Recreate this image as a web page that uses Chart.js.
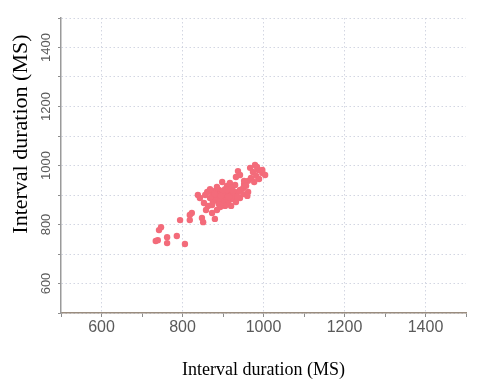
<!DOCTYPE html>
<html>
<head>
<meta charset="utf-8">
<script src="https://cdn.jsdelivr.net/npm/chart.js@4.4.1/dist/chart.umd.min.js"></script>
<style>
    body { margin: 0; background: #ffffff; }
    #graf { display: block; }
</style>
</head>
<body>
<canvas id="graf" width="492" height="392"></canvas>
<script>
// dados (ms)
const intervaloX = [979, 967, 987, 974, 997, 1004, 982, 969, 989, 962, 977, 952, 997, 984, 937, 942, 932,
    898, 917, 930, 910, 950, 942, 922, 905, 890, 880, 873, 861, 838, 893, 903, 913, 920, 930, 937,
    908, 898, 888, 878, 868, 883, 893, 903, 915, 925, 942, 932, 913, 920, 905, 890, 875, 843, 853,
    863, 873, 893, 885, 873, 858, 952, 957, 962, 823, 818, 794, 818, 848, 851, 880,
    747, 742, 762, 786, 739, 734, 762, 806, 900, 910, 885, 915, 925, 935, 895, 880, 868, 950, 960, 856];
const intervaloY = [1002, 992, 985, 978, 975, 968, 965, 958, 954, 948, 944, 937, 985, 995, 981, 968, 961,
    944, 941, 934, 931, 924, 917, 924, 920, 917, 914, 907, 910, 900, 903, 900, 907, 897, 903, 910,
    890, 886, 893, 897, 890, 883, 880, 876, 883, 886, 890, 876, 869, 863, 863, 869, 876, 890, 873,
    863, 866, 859, 849, 839, 849, 948, 931, 910, 839, 832, 815, 815, 822, 808, 819,
    791, 781, 757, 761, 747, 744, 737, 734, 914, 917, 927, 893, 914, 893, 897, 903, 920, 903, 897, 900];
const eixoMin = 500;
const eixoMax = 1500;
const rotulosTicks = [600, 800, 1000, 1200, 1400];
const tituloEixo = 'Interval duration (MS)';

const pontos = intervaloX.map((x, i) => ({ x: x, y: intervaloY[i] }));

const corGrade = 'rgba(196, 200, 216, 0.75)';
const corTick = '#8c8c8c';

function rotulo(value) {
    return rotulosTicks.includes(value) ? String(value) : '';
}

const ctx = document.getElementById('graf').getContext('2d');

new Chart(ctx, {
    type: 'scatter',
    data: {
        datasets: [{
            data: pontos,
            backgroundColor: '#f36b7a',
            borderWidth: 0,
            pointRadius: 3.2,
            pointHoverRadius: 3.2
        }]
    },
    options: {
        responsive: false,
        animation: false,
        devicePixelRatio: 1,
        layout: { padding: { top: 18, right: 26, left: 0, bottom: 0 } },
        plugins: {
            legend: { display: false },
            tooltip: { enabled: false }
        },
        scales: {
            x: {
                type: 'linear',
                min: eixoMin,
                max: eixoMax,
                afterFit: function (scale) { scale.height = 79; },
                // no v4 o tracejado da grade fica em border.dash
                border: { color: '#9a8c7e', width: 1.5, dash: [1.5, 2.5] },
                grid: {
                    // grade vertical so de 200 em 200
                    color: c => (c.tick && c.tick.value % 200 === 0) ? corGrade : 'transparent',
                    tickColor: corTick,
                    tickLength: 4,
                    tickBorderDash: []
                },
                ticks: {
                    stepSize: 100,
                    autoSkip: false,
                    maxRotation: 0,
                    padding: 1,
                    color: '#5a5a5a',
                    font: { family: '"Liberation Sans", Arial, sans-serif', size: 16 },
                    callback: rotulo
                },
                title: {
                    display: true,
                    text: tituloEixo,
                    color: '#000000',
                    font: { family: '"Liberation Serif", "Times New Roman", serif', size: 18 },
                    padding: { top: 0, bottom: 11 }
                }
            },
            y: {
                type: 'linear',
                min: eixoMin,
                max: eixoMax,
                afterFit: function (scale) { scale.width = 61; },
                border: { color: '#9a9a9a', width: 1.5, dash: [1.5, 2.5] },
                grid: {
                    color: corGrade,
                    tickColor: corTick,
                    tickLength: 3,
                    tickBorderDash: []
                },
                ticks: {
                    stepSize: 100,
                    autoSkip: false,
                    minRotation: 90,
                    maxRotation: 90,
                    crossAlign: 'center',
                    padding: -3,
                    color: '#5a5a5a',
                    font: { family: '"Liberation Sans", Arial, sans-serif', size: 13 },
                    callback: rotulo
                },
                title: {
                    display: true,
                    text: tituloEixo + '   ',
                    align: 'end',
                    color: '#000000',
                    font: { family: '"Liberation Serif", "Times New Roman", serif', size: 22 },
                    padding: { top: 8, bottom: 0 }
                }
            }
        }
    }
});
</script>
</body>
</html>
